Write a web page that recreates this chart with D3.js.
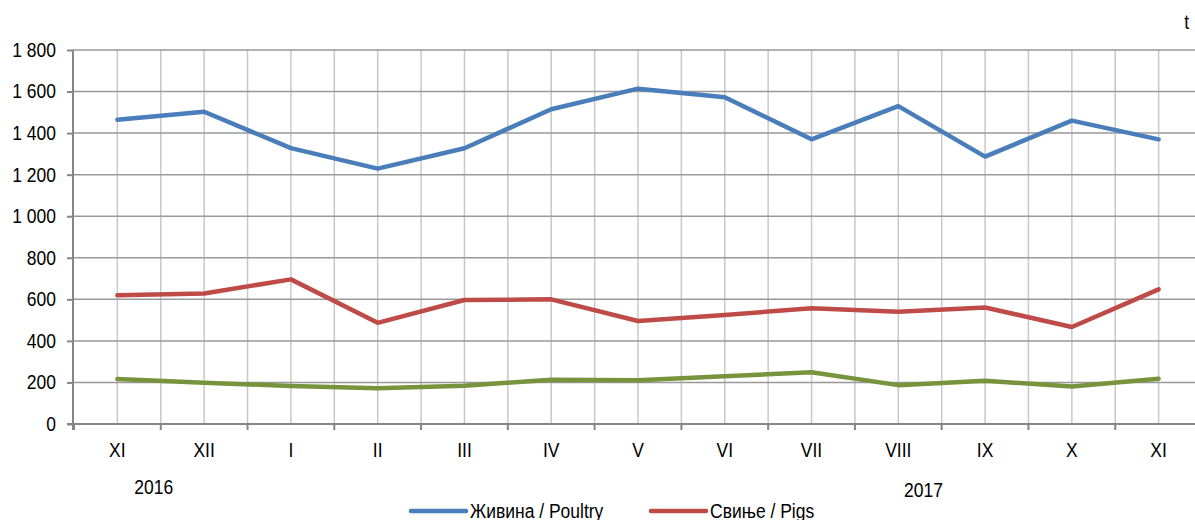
<!DOCTYPE html>
<html>
<head>
<meta charset="utf-8">
<script src="https://cdn.jsdelivr.net/npm/d3@7"></script>
<style>
  html, body { margin: 0; padding: 0; background: #fff; overflow: hidden; }
  svg { display: block; font-family: "Liberation Sans", Arial, sans-serif; }
</style>
</head>
<body>
<svg id="chart" width="1195" height="520"></svg>
<script>
const months = ["XI", "XII", "I", "II", "III", "IV", "V", "VI", "VII", "VIII", "IX", "X", "XI"]
const yTicks = [0, 200, 400, 600, 800, 1000, 1200, 1400, 1600, 1800]
const poultry = [1464, 1503, 1328, 1229, 1327, 1515, 1614, 1573, 1370, 1530, 1287, 1460, 1370]
const pigs = [620, 628, 696, 487, 597, 600, 496, 525, 557, 540, 561, 467, 648]
const other = [216, 199, 183, 172, 184, 213, 211, 230, 249, 187, 208, 181, 218]
const years = [{ label: "2016", at: 0.42 }, { label: "2017", at: 9.29 }]

const seriesList = [
    { name: "Живина / Poultry", values: poultry, color: "#4a7ebb" },
    { name: "Свиње / Pigs", values: pigs, color: "#be4b48" },
    { name: "Говеда / Cattle", values: other, color: "#77933c" }
]

const plotLeft = 73
const plotRight = 1202
const plotTop = 50
const plotBottom = 424
const fontSize = 17.5
const tall = "scale(1,1.14)" // the original font is a narrow one

const svg = d3.select("#chart")

// text placed through a transform so it can be stretched upwards
const place = (px, py) => "translate(" + px + "," + py + ") " + tall

const x = d3.scaleBand()
    .domain(d3.range(months.length))
    .range([plotLeft + 1, plotRight])
    .padding(0)
const cx = i => x(i) + x.bandwidth() / 2

const y = d3.scaleLinear()
    .domain([0, 1800])
    .range([plotBottom, plotTop])

// vertical grid: category centres and boundaries
const vLines = []
months.forEach((m, i) => { vLines.push(x(i)); vLines.push(cx(i)) })
vLines.push(plotRight)
svg.append("g")
    .selectAll("line")
    .data(vLines.slice(1))
    .join("line")
    .attr("x1", d => d).attr("x2", d => d)
    .attr("y1", plotTop).attr("y2", plotBottom)
    .attr("stroke", "#c8c8c8")
    .attr("stroke-width", 1.5)

// horizontal grid
svg.append("g")
    .selectAll("line")
    .data(yTicks.slice(1))
    .join("line")
    .attr("x1", plotLeft).attr("x2", 1195)
    .attr("y1", d => y(d)).attr("y2", d => y(d))
    .attr("stroke", "#999")
    .attr("stroke-width", 1.5)

// y axis
const yAxis = svg.append("g")
    .attr("transform", "translate(" + plotLeft + ",0)")
    .call(d3.axisLeft(y).tickValues(yTicks).tickSize(6).tickPadding(11)
        .tickFormat(d => d3.format(",")(d).replace(",", " ")))
yAxis.select(".domain").attr("stroke", "#868686").attr("stroke-width", 2)
    .attr("d", "M0," + (plotBottom + 6) + "V" + plotTop)
yAxis.selectAll(".tick line").attr("stroke", "#868686").attr("stroke-width", 2)
yAxis.selectAll(".tick text")
    .attr("font-size", fontSize)
    .attr("fill", "#000")
    .attr("font-family", null)
    .attr("transform", tall)

// x axis
svg.append("line")
    .attr("x1", plotLeft - 6).attr("x2", 1195)
    .attr("y1", plotBottom).attr("y2", plotBottom)
    .attr("stroke", "#868686").attr("stroke-width", 2)
svg.append("g")
    .selectAll("line")
    .data(d3.range(months.length + 1))
    .join("line")
    .attr("x1", i => i < months.length ? x(i) : plotRight)
    .attr("x2", i => i < months.length ? x(i) : plotRight)
    .attr("y1", plotBottom).attr("y2", plotBottom + 6)
    .attr("stroke", "#868686").attr("stroke-width", 2)

svg.append("g")
    .selectAll("text")
    .data(months)
    .join("text")
    .attr("transform", (d, i) => place(cx(i), 457))
    .attr("text-anchor", "middle")
    .attr("font-size", fontSize)
    .text(d => d)

svg.append("g")
    .selectAll("text")
    .data(years)
    .join("text")
    .attr("transform", (d, i) => place(cx(0) + d.at * x.bandwidth(), 494 + i * 3))
    .attr("text-anchor", "middle")
    .attr("font-size", fontSize)
    .text(d => d.label)

svg.append("text")
    .attr("transform", place(1189, 29))
    .attr("text-anchor", "end")
    .attr("font-size", fontSize)
    .text("t")

// lines
const line = d3.line()
    .x((d, i) => cx(i))
    .y(d => y(d))

svg.append("g")
    .selectAll("path")
    .data(seriesList.slice().reverse())
    .join("path")
    .attr("d", d => line(d.values))
    .attr("fill", "none")
    .attr("stroke", d => d.color)
    .attr("stroke-width", 4.5)
    .attr("stroke-linejoin", "round")
    .attr("stroke-linecap", "round")

// legend (third entry wraps below the visible area)
const legendPos = [{ x: 411, y: 511 }, { x: 651, y: 511 }, { x: 531, y: 540 }]
const legend = svg.append("g")
    .selectAll("g")
    .data(seriesList)
    .join("g")
    .attr("transform", (d, i) => "translate(" + legendPos[i].x + "," + legendPos[i].y + ")")
legend.append("line")
    .attr("x1", 0).attr("x2", 55)
    .attr("stroke", d => d.color)
    .attr("stroke-width", 4.5)
    .attr("stroke-linecap", "round")
legend.append("text")
    .attr("transform", place(59, 7))
    .attr("font-size", fontSize)
    .text(d => d.name)
</script>
</body>
</html>
